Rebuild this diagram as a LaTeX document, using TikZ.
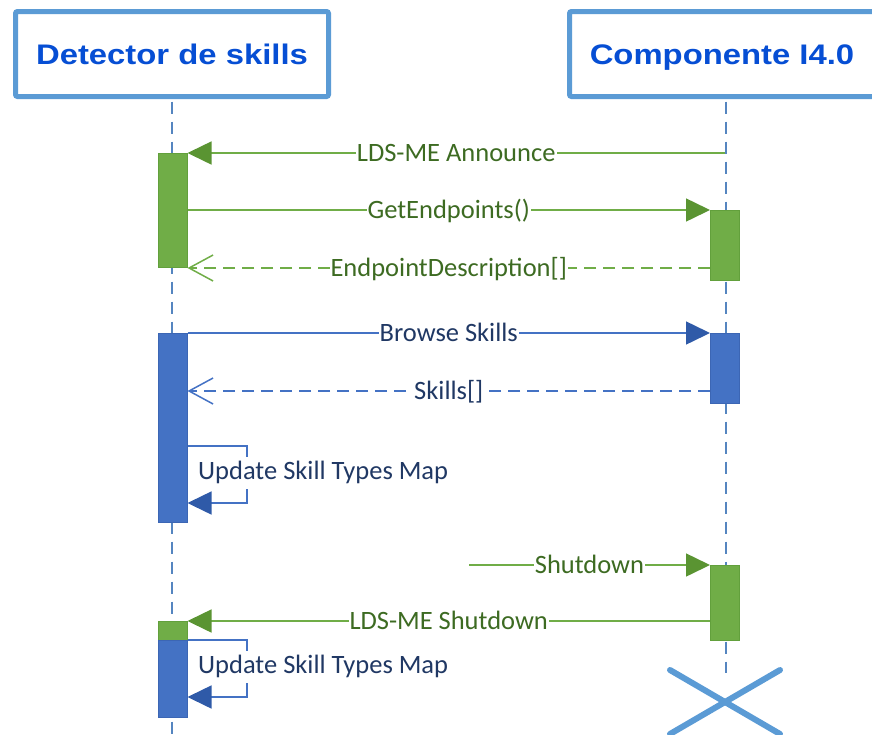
\documentclass[tikz,border=0pt]{standalone}
\usepackage{fontspec}
\setmainfont{Carlito}
\newfontfamily\hdrfont{Liberation Sans}
\usetikzlibrary{arrows.meta}

\definecolor{hdrC}{HTML}{5B9BD5}
\definecolor{hdrTxt}{HTML}{064ED4}
\definecolor{lifeC}{HTML}{5585C0}
\definecolor{gFill}{HTML}{70AD47}
\definecolor{gBarC}{HTML}{62A03C}
\definecolor{gLine}{HTML}{70AD47}
\definecolor{gTip}{HTML}{5A9432}
\definecolor{gTxt}{HTML}{3D6B22}
\definecolor{bFill}{HTML}{4472C4}
\definecolor{bBarC}{HTML}{3C66B4}
\definecolor{bLine}{HTML}{4472C4}
\definecolor{bTip}{HTML}{2F5AA8}
\definecolor{bTxt}{HTML}{203864}

\tikzset{
  hdrbox/.style={draw=hdrC, line width=5pt, rounded corners=2pt, fill=white,
    minimum width=313pt, minimum height=85pt, inner sep=0pt,
    text height=20pt, text depth=0pt, text=hdrTxt,
    font=\hdrfont\bfseries\fontsize{28.3}{32}\selectfont},
  lifeline/.style={draw=lifeC, line width=1.3pt, dash pattern=on 12pt off 8pt},
  actbar/.style={line width=1pt, minimum width=29pt, inner sep=0pt, anchor=north},
  gbar/.style={actbar, draw=gBarC, fill=gFill},
  bbar/.style={actbar, draw=bBarC, fill=bFill},
  gmsg/.style={draw=gLine, line width=1.5pt},
  bmsg/.style={draw=bLine, line width=1.5pt},
  greply/.style={gmsg, dash pattern=on 12pt off 7pt},
  breply/.style={bmsg, dash pattern=on 12pt off 7pt},
  gcall/.style={-{Triangle[length=24pt, width=23pt, color=gTip]}},
  bcall/.style={-{Triangle[length=24pt, width=23pt, color=bTip]}},
  openhead/.style={-{Straight Barb[length=24pt, width=26pt]}},
  msglabel/.style={fill=white, inner xsep=1pt, inner ysep=2pt,
    text height=17pt, text depth=0pt, font=\fontsize{26.5}{30}\selectfont},
  glabel/.style={msglabel, text=gTxt},
  blabel/.style={msglabel, text=bTxt},
  selflabel/.style={fill=white, inner xsep=1pt, inner ysep=4pt,
    text height=18pt, text depth=6pt, font=\fontsize{26.5}{30}\selectfont,
    text=bTxt, anchor=west},
  xmark/.style={draw=hdrC, line width=6pt, line cap=round},
}

\begin{document}
\begin{tikzpicture}[x=1pt, y=-1pt]
\useasboundingbox (0,0) rectangle (872,734);
\clip (0,0) rectangle (872,734);

% participants
\node[hdrbox] (hdrL) at (172,54) {\scalebox{1.16}[1]{Detector de skills}};
\node[hdrbox] (hdrR) at (726,54) {\scalebox{1.16}[1]{Componente I4.0}\hspace*{8pt}};

% lifelines
\draw[lifeline] ([yshift=-2.5pt]hdrL.south) -- (hdrL.south |- 0,734);
\draw[lifeline] ([yshift=-2.5pt]hdrR.south) -- (hdrR.south |- 0,673);

% activation bars
\node[gbar, minimum height=114pt] (a1) at (172.5,153) {};
\node[gbar, minimum height=70pt]  (r1) at (725,210) {};
\node[bbar, minimum height=189pt] (b1) at (172.5,333) {};
\node[bbar, minimum height=70pt]  (r2) at (725,333) {};
\node[gbar, minimum height=75pt]  (r3) at (725,565) {};
\node[gbar, minimum height=19pt]  (g2) at (172.5,621) {};
\node[bbar, minimum height=77pt]  (b2) at (172.5,640) {};

% discovery
\coordinate (ann) at (725,153);
\draw[gmsg, gcall] (ann) -- node[glabel] {LDS-ME Announce} (a1.north east);
\draw[gmsg, gcall] (r1.north west -| a1.east) -- node[glabel] {GetEndpoints()} (r1.north west);
\draw[greply, openhead] (a1.south east -| r1.west) -- node[glabel] {EndpointDescription[]} (a1.south east);

% skill browsing
\draw[bmsg, bcall] (b1.north east) -- node[blabel] {Browse Skills} (b1.north east -| r2.west);
\coordinate (sk) at ([yshift=13pt]r2.south west);
\draw[breply, openhead] (sk) -- node[blabel] {Skills[]} (sk -| b1.east);
\draw[bmsg, bcall] (b1.east |- 0,446) -| (247,503) -- (b1.east |- 0,503);
\node[selflabel] (upd1) at (197,473) {Update Skill Types Map};

% shutdown
\coordinate (sd) at (469,565);
\draw[gmsg, gcall] (sd) -- node[glabel] {Shutdown} (r3.north west);
\draw[gmsg, gcall] (g2.north east -| r3.west) -- node[glabel] {LDS-ME Shutdown} (g2.north east);
\draw[bmsg, bcall] (b2.north east) -| (247,697) -- (b2.east |- 0,697);
\node[selflabel] (upd2) at (197,667) {Update Skill Types Map};

% destruction of the component
\draw[xmark] (670,670) -- (780,734);
\draw[xmark] (780,670) -- (670,734);
\end{tikzpicture}
\end{document}
